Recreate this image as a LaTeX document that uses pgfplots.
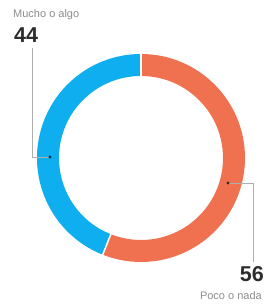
\documentclass[border=0pt]{standalone}
\usepackage{pgfplots}
\pgfplotsset{compat=1.18}
\usepackage{pgfplotstable}
\usepackage{fontspec}
\setmainfont{Liberation Sans}
\definecolor{cblue}{RGB}{15,174,238}
\definecolor{corange}{RGB}{240,113,80}
\definecolor{lbl}{RGB}{140,140,140}
\definecolor{num}{RGB}{45,45,45}
\pgfplotstableread{
label value
Mucho 44
Poco 56
}\pietable
\begin{document}
\begin{tikzpicture}
\begin{axis}[x=1pt,y=1pt,xmin=0,xmax=265,ymin=0,ymax=307,hide axis,clip=false,
  scale only axis]
\pgfplotstablegetelem{0}{value}\of\pietable \let\vA\pgfplotsretval
\pgfplotstablegetelem{1}{value}\of\pietable \let\vB\pgfplotsretval
\pgfmathsetmacro{\aEnd}{90-3.6*\vB}
% invisible frame
\path (axis cs:0,0) rectangle (axis cs:265,307);
% orange: clockwise from top
\draw[corange,line width=22pt] (axis cs:141,149) ++(90:93) arc[start angle=90,end angle=\aEnd,radius=93];
% blue
\draw[cblue,line width=22pt] (axis cs:141,149) ++(\aEnd:93) arc[start angle=\aEnd,end angle=-270,radius=93];
% separators
\draw[white,line width=1.5pt] (axis cs:141,149) ++(90:80) -- ++(90:26);
\draw[white,line width=1.5pt] (axis cs:141,149) ++(\aEnd:80) -- ++(\aEnd:26);
% leader lines
\draw[lbl!70,line width=0.6pt] (axis cs:32,259) -- (axis cs:32,150) -- (axis cs:50,150);
\fill[black!70!cblue] (axis cs:50,150) circle (1.6pt);
\draw[lbl!70,line width=0.6pt] (axis cs:228,124) -- (axis cs:253,124) -- (axis cs:253,45);
\fill[black!70!corange] (axis cs:228,124) circle (1.6pt);
% labels
\node[anchor=base west,inner sep=0,text=lbl,font=\fontsize{11}{13}\selectfont] at (axis cs:13,289) {Mucho o algo};
\node[anchor=base west,inner sep=0,text=num,font=\fontsize{21.5}{24}\selectfont\bfseries] at (axis cs:14,264) {\vA};
\node[anchor=base east,inner sep=0,text=num,font=\fontsize{21.5}{24}\selectfont\bfseries] at (axis cs:264,25) {\vB};
\node[anchor=base east,inner sep=0,text=lbl,font=\fontsize{11}{13}\selectfont] at (axis cs:262,7) {Poco o nada};
\end{axis}
\end{tikzpicture}
\end{document}
